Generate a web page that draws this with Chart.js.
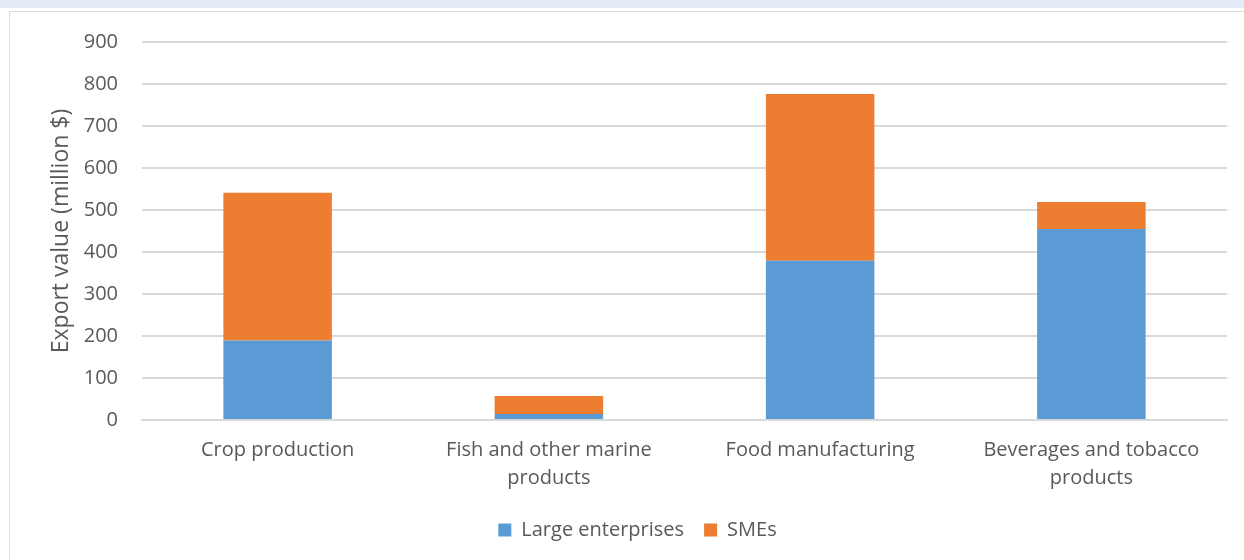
<!DOCTYPE html>
<html>
<head>
<meta charset="utf-8">
<script src="https://cdn.jsdelivr.net/npm/chart.js@4"></script>
<style>
  html, body { margin: 0; padding: 0; background: #fff; }
  body { width: 1244px; height: 560px; position: relative; overflow: hidden; font-family: "Open Sans", sans-serif; }
  #strip { position: absolute; left: 0; top: 0; width: 1244px; height: 8px; background: #e4ebf6; }
  #frame { position: absolute; left: 9px; top: 11px; width: 1235px; height: 549px; border-top: 1px solid #dcdcdc; border-left: 1px solid #dcdcdc; box-sizing: border-box; }
  #wrap { position: absolute; left: 0; top: 0; width: 1244px; height: 560px; }
</style>
</head>
<body>
<div id="strip"></div>
<div id="frame"></div>
<div id="wrap"><canvas id="myChart"></canvas></div>
<script>
var categories = [['Crop production'], ['Fish and other marine', 'products'], ['Food manufacturing'], ['Beverages and tobacco', 'products']];
var largeValues = [189, 14, 379, 455];
var smeValues = [352, 43, 397, 64];
var yTicks = [0, 100, 200, 300, 400, 500, 600, 700, 800, 900];

Chart.defaults.font.family = '"Open Sans", sans-serif';
Chart.defaults.color = '#595959';

const mychart = new Chart('myChart', {
  type: 'bar',
  data: {
    labels: categories,
    datasets: [{
      label: 'Large enterprises',
      data: largeValues,
      backgroundColor: '#5b9bd5'
    }, {
      label: 'SMEs',
      data: smeValues,
      backgroundColor: '#ed7d31'
    }]
  },
  options: {
    responsive: true,
    maintainAspectRatio: false,
    animation: false,
    layout: {
      padding: { left: 48, right: 17, top: 42, bottom: 10 }
    },
    datasets: {
      bar: { categoryPercentage: 1, barPercentage: 0.4 }
    },
    plugins: {
      tooltip: { enabled: false },
      legend: {
        position: 'bottom',
        labels: {
          font: { size: 20 },
          color: '#595959',
          boxWidth: 13,
          boxHeight: 13,
          padding: 20
        }
      }
    },
    scales: {
      x: {
        stacked: true,
        grid: { display: false },
        border: { color: '#d9d9d9', width: 2 },
        ticks: { font: { size: 20, lineHeight: 1.4 }, color: '#595959', padding: 8, maxRotation: 0 }
      },
      y: {
        stacked: true,
        min: 0,
        max: 900,
        afterBuildTicks: function (axis) {
          axis.ticks = yTicks.map(function (v) { return { value: v }; });
        },
        afterFit: function (axis) {
          axis.width = 94;
        },
        grid: { color: '#d9d9d9', lineWidth: 2, drawTicks: false },
        border: { display: false },
        ticks: { font: { size: 20 }, color: '#595959', padding: 24 },
        title: {
          display: true,
          text: 'Export value (million $)',
          font: { size: 23 },
          color: '#595959',
          padding: { top: 0, bottom: 8 }
        }
      }
    }
  }
});
</script>
</body>
</html>
